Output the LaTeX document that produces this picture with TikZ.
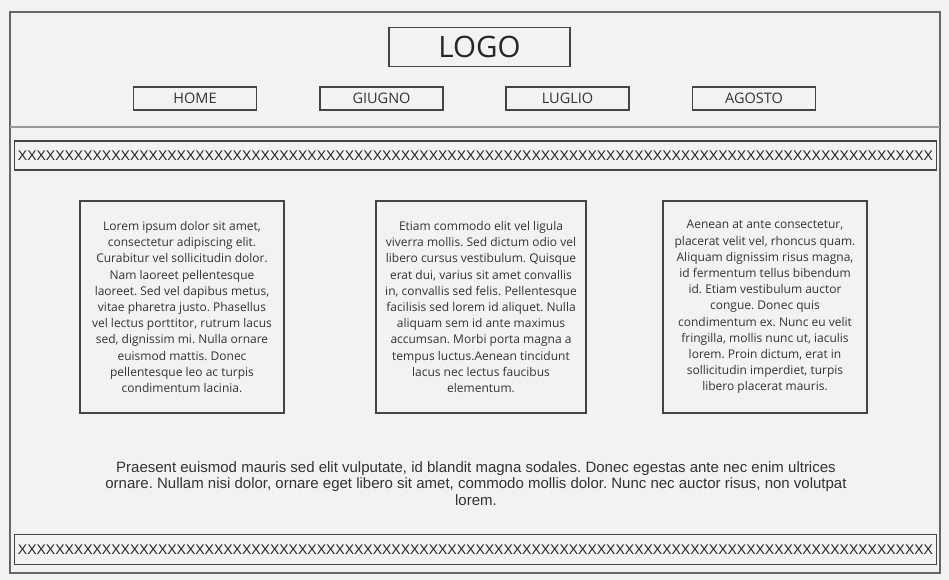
\documentclass[tikz,border=0pt]{standalone}
\usepackage{fontspec}
\setmainfont{Open Sans}
\newfontfamily\arialf{Liberation Sans}
\definecolor{bg}{HTML}{F2F2F2}
\definecolor{strk}{HTML}{444444}
\definecolor{txt}{HTML}{333333}
\begin{document}
\frenchspacing
\begin{tikzpicture}[x=1pt,y=-1pt,
  box/.style={draw=strk,line width=1.2pt,inner sep=0pt,rectangle},
  navbox/.style={box,minimum width=123pt,minimum height=23pt,font=\fontsize{14.5}{16}\selectfont,text=txt},
  cardbox/.style={box,minimum width=204pt,minimum height=212pt,align=center,text=txt,
    font=\fontsize{12}{16.2}\selectfont\frenchspacing},
  banner/.style={box,minimum width=922pt,minimum height=29pt,font=\arialf\fontsize{14}{16}\selectfont,text=black!85}]
\useasboundingbox[fill=bg] (0,0) rectangle (949,580);
\node[draw=black!60,line width=1.2pt,minimum width=930pt,minimum height=561pt,inner sep=0pt] (frame) at (475,292.5) {};
\coordinate (sepL) at (10,127);
\coordinate (sepR) at (940,127);
\draw[black!40,line width=1.2pt] (sepL) -- (sepR);
\node[box,minimum width=181pt,minimum height=39pt,font=\fontsize{29.5}{32}\selectfont,text=black!85] (logo) at (479.5,47) {LOGO};
\node[navbox] (home) at (195,98.5) {HOME};
\node[navbox] (giugno) at (381.5,98.5) {GIUGNO};
\node[navbox] (luglio) at (567.5,98.5) {LUGLIO};
\node[navbox] (agosto) at (754,98.5) {AGOSTO};
\node[banner] (top) at (475.5,155.5) {XXXXXXXXXXXXXXXXXXXXXXXXXXXXXXXXXXXXXXXXXXXXXXXXXXXXXXXXXXXXXXXXXXXXXXXXXXXXXXXXXXXXXXXXXXXXXXXXXX};
\node[cardbox] (c1) at (182,307) {Lorem ipsum dolor sit amet,\\consectetur adipiscing elit.\\Curabitur vel sollicitudin dolor.\\Nam laoreet pellentesque\\laoreet. Sed vel dapibus metus,\\vitae pharetra justo. Phasellus\\vel lectus porttitor, rutrum lacus\\sed, dignissim mi. Nulla ornare\\euismod mattis. Donec\\pellentesque leo ac turpis\\condimentum lacinia.};
\node[cardbox,minimum width=210pt] (c2) at (481,307) {Etiam commodo elit vel ligula\\viverra mollis. Sed dictum odio vel\\libero cursus vestibulum. Quisque\\erat dui, varius sit amet convallis\\in, convallis sed felis. Pellentesque\\facilisis sed lorem id aliquet. Nulla\\aliquam sem id ante maximus\\accumsan. Morbi porta magna a\\tempus luctus.Aenean tincidunt\\lacus nec lectus faucibus\\elementum.};
\node[cardbox] (c3) at (765,307) {Aenean at ante consectetur,\\placerat velit vel, rhoncus quam.\\Aliquam dignissim risus magna,\\id fermentum tellus bibendum\\id. Etiam vestibulum auctor\\congue. Donec quis\\condimentum ex. Nunc eu velit\\fringilla, mollis nunc ut, iaculis\\lorem. Proin dictum, erat in\\sollicitudin imperdiet, turpis\\libero placerat mauris.};
\node[align=center,text=txt,font=\arialf\fontsize{15}{16.5}\selectfont\frenchspacing,inner sep=0pt] (para) at (476,483.5) {Praesent euismod mauris sed elit vulputate, id blandit magna sodales. Donec egestas ante nec enim ultrices\\ornare. Nullam nisi dolor, ornare eget libero sit amet, commodo mollis dolor. Nunc nec auctor risus, non volutpat\\lorem.};
\node[banner,minimum height=30pt] (bot) at (475.5,549.5) {XXXXXXXXXXXXXXXXXXXXXXXXXXXXXXXXXXXXXXXXXXXXXXXXXXXXXXXXXXXXXXXXXXXXXXXXXXXXXXXXXXXXXXXXXXXXXXXXXX};
\end{tikzpicture}
\end{document}
